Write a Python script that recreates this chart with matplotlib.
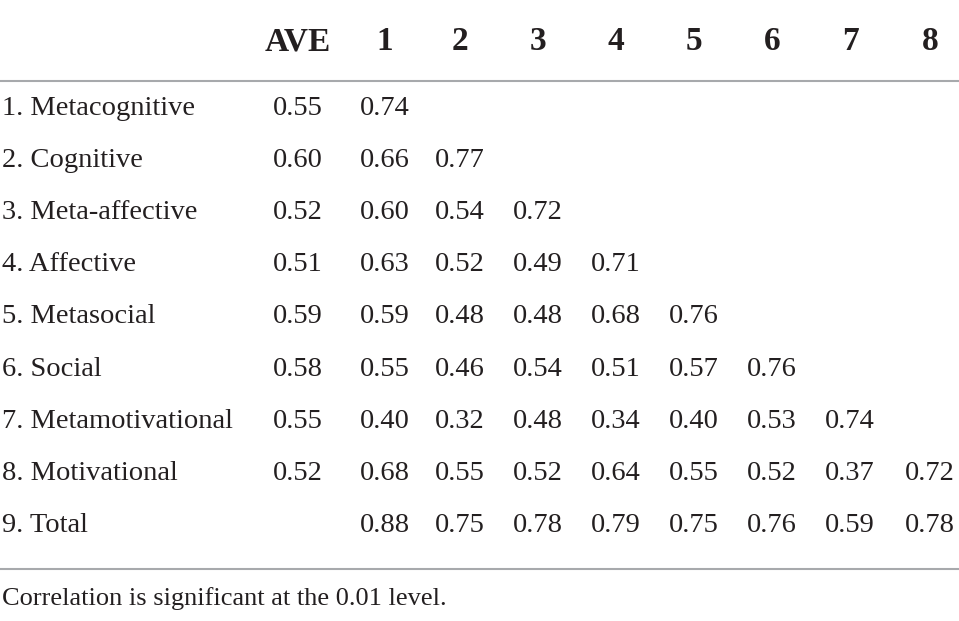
import matplotlib.pyplot as plt

# Данные таблицы
columns = ['AVE', '1', '2', '3', '4', '5', '6', '7', '8']
row_labels = ['1. Metacognitive', '2. Cognitive', '3. Meta-affective', '4. Affective',
              '5. Metasocial', '6. Social', '7. Metamotivational', '8. Motivational',
              '9. Total']
ave = [0.55, 0.60, 0.52, 0.51, 0.59, 0.58, 0.55, 0.52, None]
corr = [
    [0.74],
    [0.66, 0.77],
    [0.60, 0.54, 0.72],
    [0.63, 0.52, 0.49, 0.71],
    [0.59, 0.48, 0.48, 0.68, 0.76],
    [0.55, 0.46, 0.54, 0.51, 0.57, 0.76],
    [0.40, 0.32, 0.48, 0.34, 0.40, 0.53, 0.74],
    [0.68, 0.55, 0.52, 0.64, 0.55, 0.52, 0.37, 0.72],
    [0.88, 0.75, 0.78, 0.79, 0.75, 0.76, 0.59, 0.78],
]
note = 'Correlation is significant at the 0.01 level.'

W, H = 959, 621
fig = plt.figure(figsize=(W / 100, H / 100), dpi=100)
ax = fig.add_axes([0, 0, 1, 1])
ax.set_xlim(0, W)
ax.set_ylim(H, 0)
ax.axis('off')

font = 'Liberation Serif'
fs = 20.5
txt_color = '#231f20'
col_x = [298, 385, 460, 538, 616, 694, 772, 850, 930]
header_y = 42
row_y0, row_step = 108.5, 52.1

# шапка
for x, c in zip(col_x, columns):
    ax.text(x, header_y, c, ha='center', va='center', fontsize=24,
            fontweight='bold', family=font, color=txt_color)

ax.axhline(81, color='#a7a9ac', lw=1.5)

for i, lab in enumerate(row_labels):
    y = row_y0 + i * row_step
    ax.text(2, y, lab, ha='left', va='center', fontsize=fs, family=font, color=txt_color)
    if ave[i] is not None:
        ax.text(col_x[0], y, f'{ave[i]:.2f}', ha='center', va='center',
                fontsize=fs, family=font, color=txt_color)
    for j, v in enumerate(corr[i]):
        ax.text(col_x[j + 1], y, f'{v:.2f}', ha='center', va='center',
                fontsize=fs, family=font, color=txt_color)

ax.axhline(569, color='#a7a9ac', lw=1.5)
ax.text(2, 599, note, ha='left', va='center', fontsize=19, family=font, color=txt_color)

fig.savefig('out.png', dpi=100)
